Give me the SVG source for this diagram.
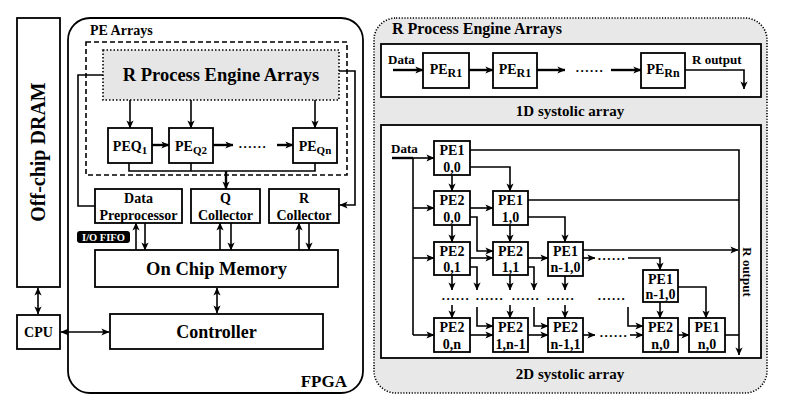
<svg xmlns="http://www.w3.org/2000/svg" width="787" height="408" viewBox="0 0 787 408" font-family="'Liberation Serif', 'DejaVu Serif', serif" font-weight="bold">
<defs>
<marker id="ah" viewBox="0 0 10 10" refX="9.5" refY="5" markerWidth="8" markerHeight="8" markerUnits="userSpaceOnUse" orient="auto-start-reverse"><path d="M0,0.5 L10,5 L0,9.5 L2.5,5 z" fill="#000"/></marker>
<style>
text{fill:#000}
.box{fill:#fff;stroke:#000;stroke-width:1.8}
.ln{fill:none;stroke:#000;stroke-width:1.6}
.th{fill:none;stroke:#000;stroke-width:2.4}
.ar{marker-end:url(#ah)}
.da{marker-start:url(#ah);marker-end:url(#ah)}
.mid{text-anchor:middle}
.pe{font-size:14px;text-anchor:middle}
.dots{font-size:13px;text-anchor:middle;letter-spacing:1.5px}
</style>
</defs>
<rect width="787" height="408" fill="#fff"/>

<!-- LEFT SYSTEM -->
<g id="dram"><rect class="box" x="17" y="18" width="43" height="269"/><text transform="translate(45,152) rotate(-90)" class="mid" font-size="20">Off-chip DRAM</text></g>
<g id="cpu"><rect class="box" x="17" y="315" width="43" height="34"/><text x="38.5" y="337" class="mid" font-size="14">CPU</text></g>
<g id="fpga"><rect x="68" y="18" width="295" height="375" rx="22" fill="none" stroke="#000" stroke-width="1.8"/><text x="347" y="387" text-anchor="end" font-size="17">FPGA</text></g>
<g id="pe-arrays"><text x="90" y="35" font-size="14">PE Arrays</text><rect x="86" y="42" width="261" height="133" fill="none" stroke="#000" stroke-width="1.6" stroke-dasharray="5,3"/></g>
<g id="r-pe-arrays"><rect x="103" y="50" width="236" height="50" fill="#e6e6e6" stroke="#000" stroke-width="1.6" stroke-dasharray="1.5,2"/><text x="221" y="81" class="mid" font-size="18.5">R Process Engine Arrays</text></g>
<g id="peq1"><rect class="box" x="108" y="128" width="44" height="35"/><text x="130" y="151" class="pe" font-size="15">PEQ<tspan font-size="11" dy="3">1</tspan></text></g>
<g id="peq2"><rect class="box" x="169" y="128" width="44" height="35"/><text x="191" y="151" class="pe" font-size="15">PE<tspan font-size="11" dy="3">Q2</tspan></text></g>
<g id="peqn"><rect class="box" x="293" y="128" width="44" height="35"/><text x="315" y="151" class="pe" font-size="15">PE<tspan font-size="11" dy="3">Qn</tspan></text></g>
<text x="253" y="148" class="dots">......</text>
<g id="data-pre"><rect class="box" x="95" y="189" width="87" height="34"/><text x="138.5" y="203" class="mid" font-size="14">Data</text><text x="138.5" y="220" class="mid" font-size="14">Preprocessor</text></g>
<g id="q-col"><rect class="box" x="191" y="189" width="69" height="34"/><text x="225.5" y="203" class="mid" font-size="14">Q</text><text x="225.5" y="220" class="mid" font-size="14">Collector</text></g>
<g id="r-col"><rect class="box" x="269" y="189" width="70" height="34"/><text x="304" y="203" class="mid" font-size="14">R</text><text x="304" y="220" class="mid" font-size="14">Collector</text></g>
<g id="io-fifo"><rect x="77" y="231" width="53" height="12" rx="3" fill="#000"/><text x="103.5" y="241" class="mid" font-size="10.5" style="fill:#fff">I/O FIFO</text></g>
<g id="ocm"><rect class="box" x="95" y="250" width="243" height="37"/><text x="216.5" y="275" class="mid" font-size="18.5">On Chip Memory</text></g>
<g id="ctrl"><rect class="box" x="110" y="314" width="213" height="35"/><text x="216.5" y="338" class="mid" font-size="18">Controller</text></g>

<g id="left-connectors">
<line class="ln da" x1="38" y1="288" x2="38" y2="314"/>
<line class="ln da" x1="61" y1="332" x2="109" y2="332"/>
<line class="ln ar" x1="130" y1="100" x2="130" y2="128"/>
<line class="ln ar" x1="191" y1="100" x2="191" y2="128"/>
<line class="ln ar" x1="315" y1="100" x2="315" y2="128"/>
<line class="th ar" x1="152" y1="145" x2="169" y2="145"/>
<line class="th ar" x1="213" y1="145" x2="233" y2="145"/>
<line class="th ar" x1="277" y1="145" x2="293" y2="145"/>
<polyline class="ln" points="129,163 129,171 315,171 315,163"/>
<line class="ln" x1="191" y1="163" x2="191" y2="171"/>
<line class="th ar" x1="226" y1="171" x2="226" y2="189"/>
<polyline class="ln" points="103,75 78,75 78,206 95,206"/>
<polyline class="ln ar" points="339,71 355,71 355,205 340,205"/>
<line class="ln ar" x1="136" y1="250" x2="136" y2="223"/>
<line class="ln ar" x1="145" y1="223" x2="145" y2="250"/>
<line class="ln ar" x1="220" y1="250" x2="220" y2="223"/>
<line class="ln ar" x1="231" y1="223" x2="231" y2="250"/>
<line class="ln ar" x1="299" y1="250" x2="299" y2="223"/>
<line class="ln ar" x1="309" y1="223" x2="309" y2="250"/>
<line class="ln da" x1="217" y1="288" x2="217" y2="313"/>
</g>

<!-- RIGHT PANEL -->
<g id="r-panel"><rect x="374" y="18" width="393" height="375" rx="22" fill="#e8e8e8" stroke="#000" stroke-width="1.6" stroke-dasharray="1.2,1.6"/><text x="392" y="34" font-size="16">R Process Engine Arrays</text></g>
<g id="sys1d"><rect class="box" x="381" y="44" width="380" height="53"/><text x="570" y="116" class="mid" font-size="15">1D systolic array</text></g>
<text x="388" y="64" font-size="13">Data</text>
<text x="692" y="64" font-size="13">R output</text>
<g id="per1a"><rect class="box" x="423" y="53" width="46" height="35"/><text x="446" y="74" class="pe" font-size="15">PE<tspan font-size="12" dy="3">R1</tspan></text></g>
<g id="per1b"><rect class="box" x="493" y="53" width="44" height="35"/><text x="515" y="74" class="pe" font-size="15">PE<tspan font-size="12" dy="3">R1</tspan></text></g>
<g id="pern"><rect class="box" x="641" y="53" width="44" height="35"/><text x="663" y="74" class="pe" font-size="15">PE<tspan font-size="12" dy="3">Rn</tspan></text></g>
<text x="590" y="72" class="dots">......</text>

<g id="sys2d"><rect class="box" x="381" y="125" width="380" height="233"/><text x="570" y="379" class="mid" font-size="15">2D systolic array</text></g>
<text x="391" y="153" font-size="13">Data</text>
<text transform="translate(743,272) rotate(90)" class="mid" font-size="13">R output</text>

<g id="pe1-00"><rect class="box" x="434" y="141" width="36" height="34"/><text x="452" y="155" class="pe">PE1</text><text x="452" y="172" class="pe">0,0</text></g>
<g id="pe2-00"><rect class="box" x="434" y="191" width="36" height="34"/><text x="452" y="205" class="pe">PE2</text><text x="452" y="222" class="pe">0,0</text></g>
<g id="pe1-10"><rect class="box" x="493" y="191" width="35" height="34"/><text x="510.5" y="205" class="pe">PE1</text><text x="510.5" y="222" class="pe">1,0</text></g>
<g id="pe2-01"><rect class="box" x="434" y="242" width="36" height="33"/><text x="452" y="256" class="pe">PE2</text><text x="452" y="272" class="pe">0,1</text></g>
<g id="pe2-11"><rect class="box" x="493" y="242" width="35" height="33"/><text x="510.5" y="256" class="pe">PE2</text><text x="510.5" y="272" class="pe">1,1</text></g>
<g id="pe1-n10a"><rect class="box" x="548" y="242" width="35" height="34"/><text x="565.5" y="256" class="pe">PE1</text><text x="565.5" y="272" class="pe" font-size="13.5">n-1,0</text></g>
<g id="pe1-n10b"><rect class="box" x="643" y="270" width="35" height="32"/><text x="660.5" y="284" class="pe">PE1</text><text x="660.5" y="299" class="pe" font-size="13.5">n-1,0</text></g>
<g id="pe2-0n"><rect class="box" x="434" y="318" width="36" height="34"/><text x="452" y="332" class="pe">PE2</text><text x="452" y="349" class="pe">0,n</text></g>
<g id="pe2-1n1"><rect class="box" x="493" y="318" width="35" height="34"/><text x="510.5" y="332" class="pe">PE2</text><text x="510.5" y="349" class="pe" font-size="13.5">1,n-1</text></g>
<g id="pe2-n11"><rect class="box" x="548" y="318" width="35" height="34"/><text x="565.5" y="332" class="pe">PE2</text><text x="565.5" y="349" class="pe" font-size="13.5">n-1,1</text></g>
<g id="pe2-n0"><rect class="box" x="643" y="318" width="35" height="34"/><text x="660.5" y="332" class="pe">PE2</text><text x="660.5" y="349" class="pe">n,0</text></g>
<g id="pe1-n0"><rect class="box" x="689" y="318" width="36" height="34"/><text x="707" y="332" class="pe">PE1</text><text x="707" y="349" class="pe">n,0</text></g>

<text x="456" y="300" class="dots">......</text>
<text x="490" y="300" class="dots">......</text>
<text x="526" y="300" class="dots">......</text>
<text x="561" y="300" class="dots">......</text>
<text x="612" y="300" class="dots">......</text>
<text x="612" y="260" class="dots">......</text>
<text x="614" y="337" class="dots">......</text>

<g id="right-connectors">
<line class="th ar" x1="393" y1="70" x2="423" y2="70"/>
<line class="th ar" x1="469" y1="70" x2="493" y2="70"/>
<line class="th ar" x1="537" y1="70" x2="565" y2="70"/>
<line class="th ar" x1="611" y1="70" x2="641" y2="70"/>
<polyline class="ln ar" points="685,70 744,70 744,89"/>

<line class="th" x1="392" y1="158" x2="413" y2="158"/>
<line class="ln ar" x1="413" y1="158" x2="434" y2="158"/>
<line class="ln" x1="413" y1="158" x2="413" y2="335"/>
<line class="ln ar" x1="413" y1="208" x2="434" y2="208"/>
<line class="ln ar" x1="413" y1="258" x2="434" y2="258"/>
<line class="ln ar" x1="413" y1="335" x2="434" y2="335"/>
<polyline class="ln ar" points="470,150 739,150 739,355"/>
<line class="ln" x1="528" y1="200" x2="739" y2="200"/>
<polyline class="ln ar" points="470,167 510,167 510,191"/>
<line class="ln ar" x1="452" y1="175" x2="452" y2="191"/>
<line class="ln ar" x1="470" y1="208" x2="493" y2="208"/>
<polyline class="ln ar" points="470,217 477,217 477,251 493,251"/>
<line class="ln ar" x1="452" y1="225" x2="452" y2="242"/>
<polyline class="ln ar" points="528,217 565,217 565,242"/>
<line class="ln ar" x1="510" y1="225" x2="510" y2="242"/>
<line class="ln ar" x1="470" y1="258" x2="493" y2="258"/>
<line class="ln ar" x1="528" y1="258" x2="548" y2="258"/>
<polyline class="ln ar" points="470,267 477,267 477,290"/>
<line class="ln ar" x1="452" y1="275" x2="452" y2="290"/>
<line class="ln ar" x1="510" y1="275" x2="510" y2="290"/>
<polyline class="ln ar" points="528,267 534,267 534,290"/>
<line class="ln ar" x1="565" y1="276" x2="565" y2="290"/>
<line class="ln ar" x1="583" y1="250" x2="738" y2="250"/>
<line class="ln ar" x1="583" y1="258" x2="595" y2="258"/>
<polyline class="ln ar" points="628,258 660,258 660,270"/>
<line class="ln ar" x1="452" y1="305" x2="452" y2="318"/>
<polyline class="ln ar" points="477,307 477,326 493,326"/>
<line class="ln ar" x1="510" y1="305" x2="510" y2="318"/>
<polyline class="ln ar" points="534,307 534,326 548,326"/>
<line class="ln ar" x1="565" y1="305" x2="565" y2="318"/>
<polyline class="ln ar" points="628,307 628,326 643,326"/>
<line class="ln ar" x1="660" y1="302" x2="660" y2="318"/>
<polyline class="ln ar" points="678,287 706,287 706,318"/>
<line class="ln ar" x1="470" y1="335" x2="493" y2="335"/>
<line class="ln ar" x1="528" y1="335" x2="548" y2="335"/>
<line class="ln ar" x1="583" y1="335" x2="595" y2="335"/>
<line class="ln ar" x1="630" y1="335" x2="643" y2="335"/>
<line class="ln ar" x1="678" y1="335" x2="689" y2="335"/>
<line class="ln" x1="725" y1="335" x2="739" y2="335"/>
</g>
</svg>
